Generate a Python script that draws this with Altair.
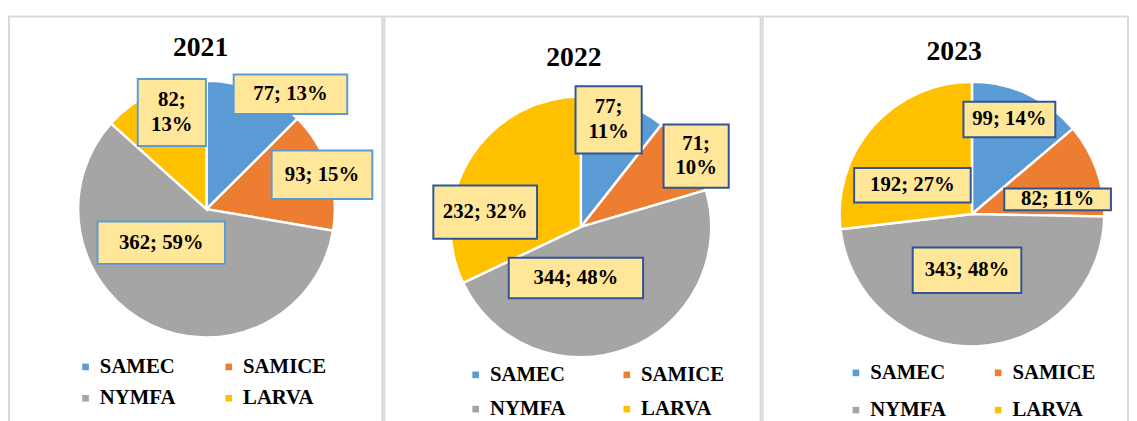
import altair as alt
import pandas as pd

# ---- data -------------------------------------------------------------
CATEGORIES = ["SAMEC", "SAMICE", "NYMFA", "LARVA"]
YEARS = ["2021", "2022", "2023"]
VALUES_2021 = [77, 93, 362, 82]
VALUES_2022 = [77, 71, 344, 232]
VALUES_2023 = [99, 82, 343, 192]
VALUES = {"2021": VALUES_2021, "2022": VALUES_2022, "2023": VALUES_2023}

# ---- style ------------------------------------------------------------
COLORS = ["#5B9BD5", "#ED7D31", "#A5A5A5", "#FFC000"]
FONT = "Liberation Serif"
BOX_FILL = "#FFE699"
LABEL_SIZE = 21
LINE_H = 25

# label placement: angle nudge from slice mid-angle (deg), distance (px),
# box width, box height, two-line label
LABEL_NUDGE = {"2021": [13.6, 1.0, 27.7, 4.3],
               "2022": [-4.6, 2.5, 26.4, -23.5],
               "2023": [-3.3, 9.8, 7.8, -15.9]}
LABEL_DIST = {"2021": [144, 122, 57, 104],
              "2022": [112, 137, 52, 98],
              "2023": [103, 88, 57, 67]}
BOX_W = {"2021": [115, 102, 129, 69],
         "2022": [67, 66, 136, 105],
         "2023": [93, 108, 110, 118]}
BOX_H = {"2021": [40, 49, 43, 68],
         "2022": [68, 64, 41, 54],
         "2023": [36, 22, 46, 35]}
TWO_LINE = {"2021": [0, 0, 0, 1],
            "2022": [1, 1, 0, 0],
            "2023": [0, 0, 0, 0]}

PANEL = {
    "2021": dict(w=378, cx=200, cy=195, r=130, tx=194, ty=40,
                 lx=67, ly=344, cpad=43, rpad=10, border="#5B9BD5"),
    "2022": dict(w=381, cx=199, cy=213, r=132, tx=192, ty=50,
                 lx=82, ly=352, cpad=51, rpad=13, border="#2F5597"),
    "2023": dict(w=370, cx=212, cy=200, r=134, tx=194, ty=44,
                 lx=84, ly=350, cpad=42, rpad=16, border="#2F5597"),
}
H = 420


def panel(year):
    cfg = PANEL[year]
    df = pd.DataFrame({
        "cat": CATEGORIES,
        "v": VALUES[year],
        "idx": list(range(len(CATEGORIES))),
        "nudge": LABEL_NUDGE[year],
        "lr": LABEL_DIST[year],
        "bw": BOX_W[year],
        "bh": BOX_H[year],
        "two": TWO_LINE[year],
    })
    base = alt.Chart(df)
    cx, cy = cfg["cx"], cfg["cy"]

    arcs = base.mark_arc(radius=cfg["r"], stroke="white", strokeWidth=2.5).encode(
        theta=alt.Theta("v:Q", stack=True),
        order=alt.Order("idx:Q"),
        color=alt.Color(
            "cat:N",
            sort=CATEGORIES,
            scale=alt.Scale(domain=CATEGORIES, range=COLORS),
            legend=alt.Legend(
                orient="none", legendX=cfg["lx"], legendY=cfg["ly"],
                direction="horizontal",
                columns=2, columnPadding=cfg["cpad"], rowPadding=cfg["rpad"],
                symbolType="square", symbolSize=45, symbolStrokeWidth=0,
                labelFont=FONT, labelFontSize=LABEL_SIZE, labelFontWeight="bold",
                labelColor="black", labelOffset=4, title=None,
            ),
        ),
        x=alt.value(cx),
        y=alt.value(cy),
    )

    lab = (
        base.transform_joinaggregate(total="sum(v)")
        .transform_window(cum="sum(v)", sort=[alt.SortField("idx")], frame=[None, 0])
        .transform_calculate(
            mid="((datum.cum - datum.v/2)/datum.total)*2*PI + datum.nudge*PI/180",
        )
        .transform_calculate(
            lx=f"{cx} + datum.lr*sin(datum.mid)",
            ly=f"{cy} - datum.lr*cos(datum.mid)",
            pct="round(datum.v/datum.total*100)",
        )
        .transform_calculate(
            bx1="datum.lx - datum.bw/2",
            bx2="datum.lx + datum.bw/2",
            by1="datum.ly - datum.bh/2",
            by2="datum.ly + datum.bh/2",
            ty=f"datum.ly - datum.two*{LINE_H}/2",
            label="datum.v + ';' + (datum.two ? '\\n' : ' ') + datum.pct + '%'",
        )
    )
    boxes = lab.mark_rect(fill=BOX_FILL, stroke=cfg["border"], strokeWidth=2).encode(
        x=alt.X("bx1:Q", scale=None, axis=None),
        x2="bx2:Q",
        y=alt.Y("by1:Q", scale=None, axis=None),
        y2="by2:Q",
    )
    texts = lab.mark_text(
        font=FONT, fontSize=LABEL_SIZE, fontWeight="bold", color="black",
        lineBreak="\n", lineHeight=LINE_H, align="center", baseline="middle",
    ).encode(
        x=alt.X("lx:Q", scale=None, axis=None),
        y=alt.Y("ty:Q", scale=None, axis=None),
        text="label:N",
    )
    title = alt.Chart(pd.DataFrame({"t": [year]})).mark_text(
        font=FONT, fontSize=28, fontWeight="bold", color="black",
        align="center", baseline="alphabetic",
    ).encode(text="t:N", x=alt.value(cfg["tx"]), y=alt.value(cfg["ty"]))

    return alt.layer(arcs, boxes, texts, title).properties(width=cfg["w"], height=H)


chart = (
    alt.hconcat(*[panel(y) for y in YEARS], spacing=0)
    .resolve_scale(color="independent")
    .properties(padding={"left": 0, "top": 5, "right": 0, "bottom": 0},
                background="white")
    .configure_view(stroke="#D9D9D9", strokeWidth=2)
)

chart.save("out.html", embed_options={"renderer": "svg", "actions": False})
